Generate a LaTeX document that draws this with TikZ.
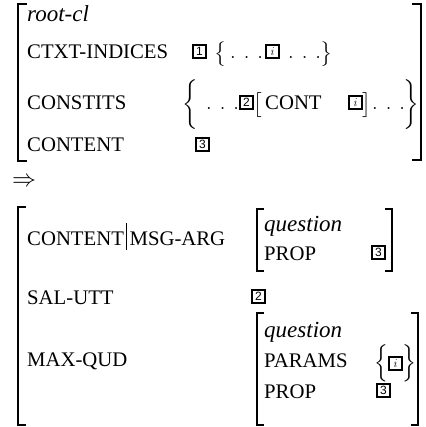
\documentclass[tikz,border=0pt]{standalone}
\usepackage{fix-cm}
\usepackage{amsmath}
\usepackage{fontspec}
\setmainfont{Liberation Serif}
\newfontfamily\tagfont{Liberation Sans}

\newcommand{\avmdots}{$.\kern8pt.\kern8pt.$}
\newcommand{\avmbar}{\kern2pt\rule[-5pt]{0.6pt}{27pt}\kern3pt}

\begin{document}
\begin{tikzpicture}[x=1pt,y=-1pt,
    font=\fontsize{20.74}{25}\selectfont,
    feat/.style={anchor=base west,inner sep=0pt},
    avmtype/.style={feat,font=\fontsize{23}{27}\selectfont\itshape},
    tag/.style={draw,line width=1.8pt,minimum width=13.2pt,minimum height=13.2pt,
      inner sep=0pt,anchor=south west,font=\tagfont\fontsize{12}{12}\selectfont},
    outerbrk/.style={line width=1.8pt},
    innerbrk/.style={line width=1.4pt}]
  \useasboundingbox (0,0) rectangle (425,427);

  \draw[outerbrk] (27,4) -- (18,4) -- (18,161) -- (27,161);
  \draw[outerbrk] (412,4) -- (421,4) -- (421,160) -- (412,160);
  \node[avmtype] (rootcl) at (27,22) {root-cl};
  \node[feat] (ctxt) at (27,59) {CTXT-INDICES};
  \node[tag] (ctxt1) at (192,59) {1};
  \node[feat] (ctxtlb) at (214,59) {$\bigl\{$};
  \node[feat] (ctxtd1) at (230,59) {\avmdots};
  \node[tag] (ctxti) at (265,59) {$i$};
  \node[feat] (ctxtd2) at (288,59) {\avmdots};
  \node[feat] (ctxtrb) at (320,59) {$\bigr\}$};
  \node[feat] (constits) at (27,110) {CONSTITS};
  \node[feat] (constlb) at (182,110) {$\biggl\{$};
  \node[feat] (constd1) at (206,110) {\avmdots};
  \node[tag] (const2) at (239,110) {2};
  \node[feat] (constlk) at (253,110) {$\bigl[$};
  \node[feat] (cont) at (265,110) {CONT};
  \node[tag] (consti) at (348,110) {$i$};
  \node[feat] (constrk) at (362,110) {$\bigr]$};
  \node[feat] (constd2) at (372,110) {\avmdots};
  \node[feat] (constrb) at (403,110) {$\biggr\}$};
  \node[feat] (content) at (27,152) {CONTENT};
  \node[tag] (content3) at (195,152) {3};

  \node[feat,font=\fontsize{24}{28}\selectfont] (impl) at (12,187) {$\Rightarrow$};

  \draw[outerbrk] (26,207) -- (18,207) -- (18,425) -- (26,425);
  \node[feat] (msgarg) at (27,245) {CONTENT\avmbar MSG-ARG};
  \draw[innerbrk] (264,209) -- (257,209) -- (257,271) -- (264,271);
  \draw[innerbrk] (385,209) -- (392,209) -- (392,271) -- (385,271);
  \node[avmtype] (q1) at (264,231) {question};
  \node[feat] (prop1) at (264,260) {PROP};
  \node[tag] (prop1val) at (371,260) {3};
  \node[feat] (salutt) at (27,304) {SAL-UTT};
  \node[tag] (saluttval) at (251,304) {2};
  \node[feat] (maxqud) at (27,366) {MAX-QUD};
  \draw[innerbrk] (264,313) -- (257,313) -- (257,425) -- (264,425);
  \draw[innerbrk] (411,313) -- (418,313) -- (418,425) -- (411,425);
  \node[avmtype] (q2) at (264,337) {question};
  \node[feat] (params) at (264,367) {PARAMS};
  \node[feat] (paramslb) at (374,369) {$\Bigl\{$};
  \node[tag] (paramsi) at (388,371) {$i$};
  \node[feat] (paramsrb) at (402,369) {$\Bigr\}$};
  \node[feat] (prop2) at (264,398) {PROP};
  \node[tag] (prop2val) at (376,398) {3};
\end{tikzpicture}
\end{document}
